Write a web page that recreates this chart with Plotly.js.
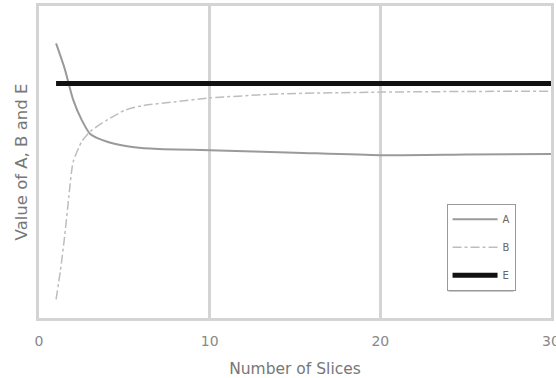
<!DOCTYPE html>
<html>
<head>
<meta charset="utf-8">
<script src="https://cdn.plot.ly/plotly-3.0.1.min.js"></script>
<style>html,body{margin:0;padding:0;background:#fff}#chart{width:556px;height:378px}</style>
</head>
<body>
<div id="chart"></div>
<script>
// Data
var seriesNames = ["A", "B", "E"];
var xA = [1, 1.5, 2, 2.5, 3, 4, 5, 6, 8, 10, 15, 20, 25, 30];
var yA = [88, 80, 70, 63.5, 59, 56.5, 55.2, 54.5, 54, 53.8, 53, 52.2, 52.4, 52.6];
var xB = [1, 1.25, 1.5, 1.75, 2, 2.5, 3, 4, 5, 6, 8, 10, 14, 20, 25, 30];
var yB = [6, 15, 26, 39, 50, 56.5, 59.8, 63.5, 66.5, 68, 69.3, 70.5, 71.8, 72.4, 72.6, 72.7];
var xE = [1, 30];
var yE = [75.2, 75.2];
var xTicks = [0, 10, 20, 30];
var xTickLabels = ["0", "10", "20", "30"];

var traces = [
  {x: xA, y: yA, name: seriesNames[0], mode: "lines", legendgroup: "a",
   line: {color: "#9a9a9a", width: 2, shape: "spline", smoothing: 0.6}},
  {x: xB, y: yB, name: seriesNames[1], mode: "lines", legendgroup: "b",
   line: {color: "#bdbdbd", width: 1.5, dash: "dashdot", shape: "spline", smoothing: 0.6}},
  {x: xE, y: yE, name: seriesNames[2], mode: "lines", legendgroup: "e",
   line: {color: "#111111", width: 5}}
];

var layout = {
  width: 556, height: 378,
  margin: {l: 38.5, r: 4.5, t: 5.5, b: 59.5},
  paper_bgcolor: "#ffffff", plot_bgcolor: "#ffffff",
  font: {family: "DejaVu Sans, sans-serif", size: 14, color: "#777777"},
  showlegend: true,
  xaxis: {
    range: [0, 30], tickvals: xTicks, ticktext: xTickLabels,
    tickfont: {size: 14, color: "#888888"},
    ticklabeloverflow: "allow",
    showgrid: true, gridcolor: "#d4d4d4", gridwidth: 3,
    showline: true, linecolor: "#d4d4d4", linewidth: 3, mirror: true,
    zeroline: false, ticks: "", ticklabelstandoff: 8,
    title: {text: "Number of Slices", standoff: 17, font: {size: 15.5, color: "#777777"}}
  },
  yaxis: {
    range: [0, 100], showgrid: false, showticklabels: false,
    showline: true, linecolor: "#d4d4d4", linewidth: 3, mirror: true,
    zeroline: false, ticks: "",
    title: {text: "Value of A, B and E", standoff: 5, font: {size: 16.5, color: "#777777"}}
  },
  legend: {
    x: 0.796, y: 0.366, xanchor: "left", yanchor: "top",
    bgcolor: "#ffffff", bordercolor: "#999999", borderwidth: 1,
    font: {size: 10, color: "#666666"},
    traceorder: "grouped", tracegroupgap: 9, itemwidth: 45
  },
  shapes: [
    {type: "line", xref: "paper", yref: "paper",
     x0: 0.800, x1: 0.927, y0: 0.090, y1: 0.090,
     line: {color: "#333333", width: 2.5}}
  ]
};

Plotly.newPlot("chart", traces, layout, {displayModeBar: false, staticPlot: true});
</script>
</body>
</html>
